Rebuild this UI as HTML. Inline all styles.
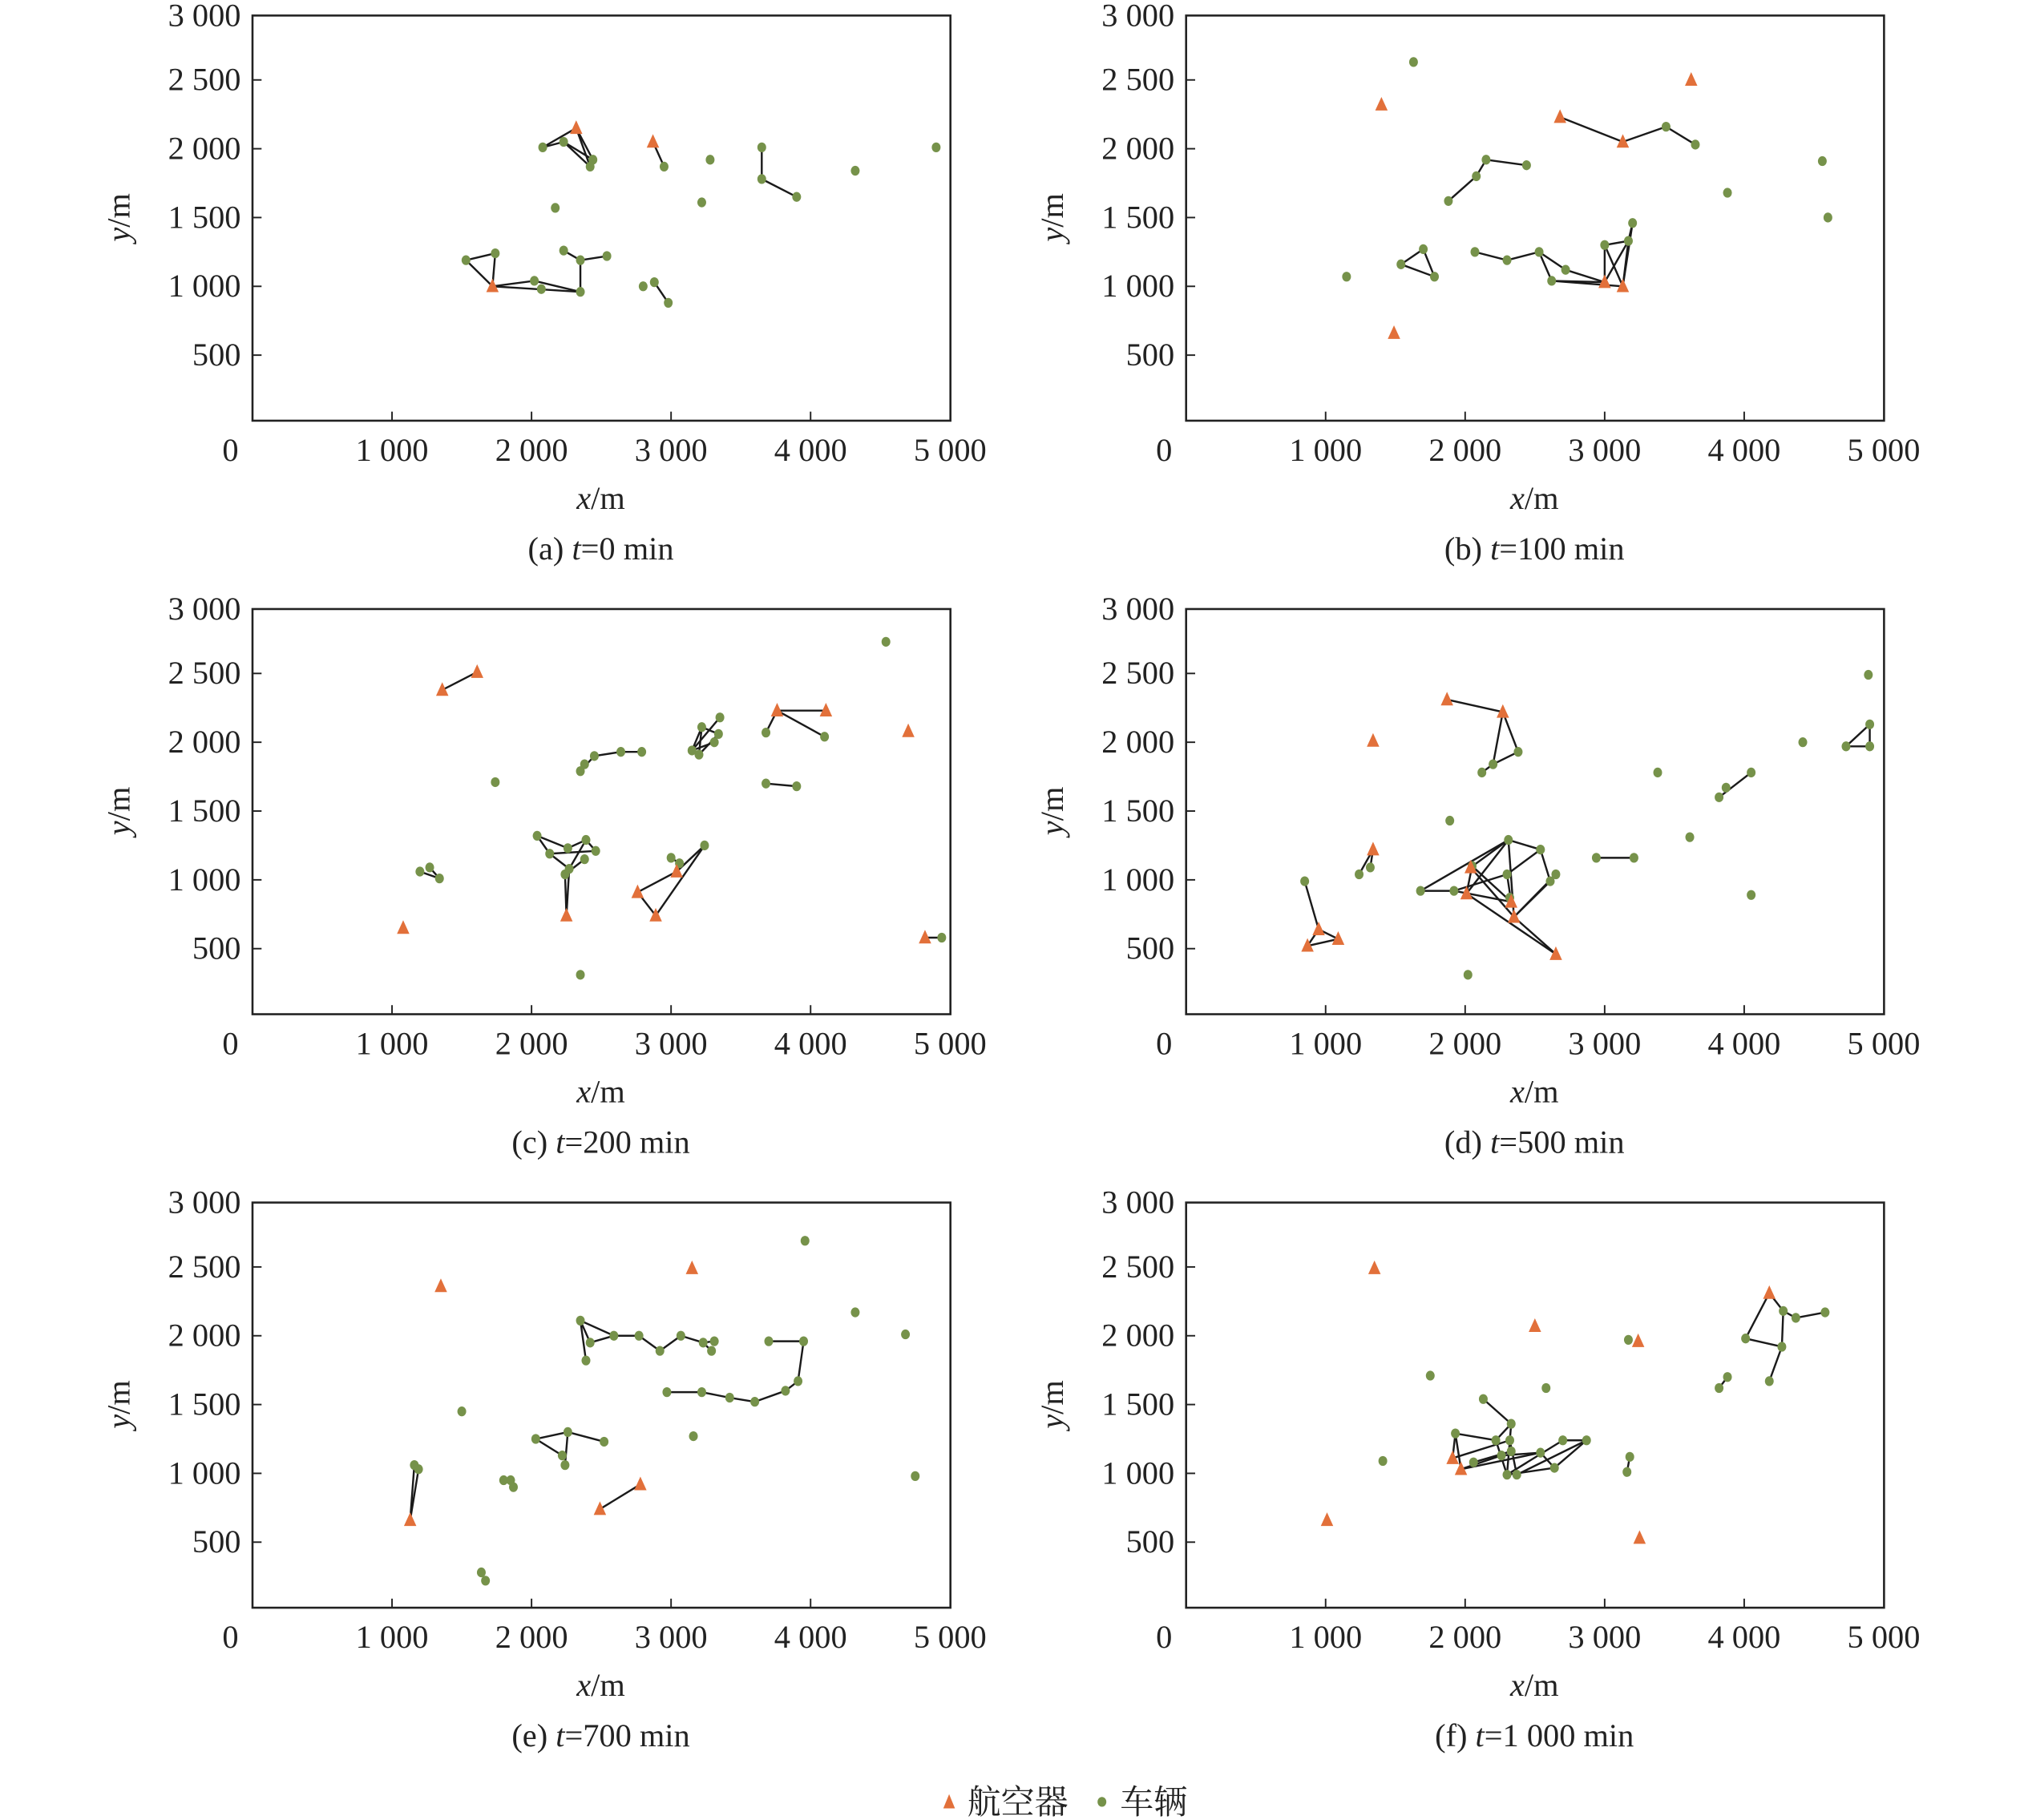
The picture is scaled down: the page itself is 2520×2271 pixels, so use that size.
<!DOCTYPE html>
<html><head><meta charset="utf-8"><style>
html,body{margin:0;padding:0;background:#fff;}
svg{display:block;font-family:"Liberation Serif","Noto Serif CJK SC",serif;}
</style></head><body>
<svg id="fig" xmlns="http://www.w3.org/2000/svg" width="2520" height="2271" viewBox="0 0 1560 1406" preserveAspectRatio="none"></svg>
<script>
const xTicks=[0,1000,2000,3000,4000,5000];
const xTickLabels=["0","1 000","2 000","3 000","4 000","5 000"];
const yTicks=[500,1000,1500,2000,2500,3000];
const yTickLabels=["500","1 000","1 500","2 000","2 500","3 000"];
const captions=[["(a) ","t","=0 min"],["(b) ","t","=100 min"],["(c) ","t","=200 min"],["(d) ","t","=500 min"],["(e) ","t","=700 min"],["(f) ","t","=1 000 min"]];

const aircraftA=[[2320,2150],[2870,2050],[1720,1000]];
const vehicleA=[[2080,2010],[2230,2050],[2440,1920],[2420,1870],[2950,1870],[3280,1920],[3650,2010],[3650,1780],[3900,1650],[4320,1840],[4900,2010],[3220,1610],[2170,1570],[1530,1190],[1740,1240],[2230,1260],[2540,1220],[2350,1190],[2020,1040],[2070,980],[2350,960],[2800,1000],[2880,1030],[2980,880]];
const edgesA=[[2320,2150,2080,2010],[2320,2150,2440,1920],[2320,2150,2420,1870],[2080,2010,2230,2050],[2230,2050,2420,1870],[2230,2050,2440,1920],[2870,2050,2950,1870],[3650,2010,3650,1780],[3650,1780,3900,1650],[1720,1000,1530,1190],[1720,1000,1740,1240],[1530,1190,1740,1240],[1720,1000,2350,960],[1720,1000,2020,1040],[2020,1040,2350,960],[2230,1260,2350,1190],[2350,1190,2540,1220],[2350,1190,2350,960],[2880,1030,2980,880]];

const aircraftB=[[3620,2500],[1400,2320],[2680,2230],[3130,2050],[1490,660],[3000,1030],[3130,1000]];
const vehicleB=[[1630,2630],[3440,2160],[3650,2030],[4560,1910],[4600,1500],[3880,1680],[2150,1920],[2440,1880],[2080,1800],[1880,1620],[1150,1070],[1540,1160],[1700,1270],[1780,1070],[2070,1250],[2300,1190],[2530,1250],[2620,1040],[2720,1120],[3000,1300],[3170,1330],[3200,1460]];
const edgesB=[[2680,2230,3130,2050],[3130,2050,3440,2160],[3440,2160,3650,2030],[1880,1620,2080,1800],[2080,1800,2150,1920],[2150,1920,2440,1880],[1540,1160,1700,1270],[1700,1270,1780,1070],[1540,1160,1780,1070],[2070,1250,2300,1190],[2300,1190,2530,1250],[2530,1250,2620,1040],[2530,1250,2720,1120],[2620,1040,3000,1030],[2720,1120,3000,1030],[2620,1040,3130,1000],[3000,1300,3000,1030],[3000,1300,3130,1000],[3000,1300,3170,1330],[3170,1330,3130,1000],[3200,1460,3130,1000],[3000,1030,3170,1330],[3170,1330,3200,1460]];

const aircraftC=[[1360,2380],[1610,2510],[1080,650],[2250,740],[2760,910],[2890,740],[3040,1060],[3760,2230],[4110,2230],[4700,2080],[4820,580]];
const vehicleC=[[4540,2730],[1740,1710],[1200,1060],[1270,1090],[1340,1010],[2040,1320],[2130,1190],[2260,1230],[2390,1290],[2460,1210],[2240,1040],[2270,1080],[2380,1150],[2350,310],[2350,1790],[2380,1840],[2450,1900],[2640,1930],[2790,1930],[3150,1940],[3200,1910],[3220,2110],[3310,2000],[3340,2060],[3350,2180],[3000,1160],[3060,1120],[3240,1250],[3680,2070],[4100,2040],[3680,1700],[3900,1680],[4940,580]];
const edgesC=[[1360,2380,1610,2510],[1200,1060,1340,1010],[1270,1090,1340,1010],[2040,1320,2130,1190],[2040,1320,2260,1230],[2250,740,2240,1040],[2250,740,2270,1080],[2240,1040,2380,1150],[2130,1190,2460,1210],[2260,1230,2390,1290],[2390,1290,2270,1080],[2390,1290,2460,1210],[2130,1190,2270,1080],[2350,1790,2450,1900],[2450,1900,2640,1930],[2640,1930,2790,1930],[3150,1940,3350,2180],[3200,1910,3220,2110],[3220,2110,3340,2060],[3150,1940,3310,2000],[3200,1910,3340,2060],[3150,1940,3220,2110],[3760,2230,4110,2230],[3760,2230,3680,2070],[3760,2230,4100,2040],[3680,1700,3900,1680],[2760,910,2890,740],[2760,910,3040,1060],[2890,740,3240,1250],[3040,1060,3240,1250],[3000,1160,3060,1120],[4820,580,4940,580]];

const aircraftD=[[1870,2310],[2270,2220],[1340,2010],[1340,1220],[950,640],[870,520],[1090,570],[2040,1090],[2010,900],[2330,840],[2350,730],[2650,460]];
const vehicleD=[[4890,2490],[4900,2130],[4900,1970],[4730,1970],[4420,2000],[3380,1780],[4050,1780],[3870,1670],[3820,1600],[3610,1310],[4050,890],[2940,1160],[3210,1160],[2120,1780],[2200,1840],[2380,1930],[1890,1430],[1240,1040],[1320,1090],[850,990],[2020,310],[1680,920],[1920,920],[2050,1100],[2310,1290],[2300,1040],[2540,1220],[2610,990],[2650,1040],[2320,870]];
const edgesD=[[1870,2310,2270,2220],[2270,2220,2200,1840],[2270,2220,2380,1930],[2120,1780,2200,1840],[2200,1840,2380,1930],[1240,1040,1340,1220],[1320,1090,1340,1220],[850,990,950,640],[950,640,870,520],[950,640,1090,570],[870,520,1090,570],[2940,1160,3210,1160],[3820,1600,4050,1780],[4730,1970,4900,2130],[4900,2130,4900,1970],[4730,1970,4900,1970],[1680,920,1920,920],[1920,920,2330,840],[2010,900,2310,1290],[2040,1090,2310,1290],[2310,1290,2540,1220],[2310,1290,2350,730],[2540,1220,2610,990],[2350,730,2650,460],[2350,730,2610,990],[2040,1090,2350,730],[1920,920,2300,1040],[2300,1040,2330,840],[2010,900,2650,460],[2650,1040,2350,730],[1680,920,2310,1290],[2050,1100,2330,840],[2300,1040,2540,1220],[2010,900,2050,1100]];

const aircraftE=[[1350,2360],[3150,2490],[1130,660],[2490,740],[2780,920]];
const vehicleE=[[3960,2690],[4320,2170],[4680,2010],[4750,980],[1500,1450],[1640,280],[1670,220],[1800,950],[1850,950],[1870,900],[1160,1060],[1190,1030],[2030,1250],[2220,1130],[2260,1300],[2240,1060],[2520,1230],[2350,2110],[2390,1820],[2420,1950],[2590,2000],[2770,2000],[2920,1890],[3070,2000],[3230,1950],[3290,1890],[3310,1960],[3700,1960],[3950,1960],[2970,1590],[3220,1590],[3420,1550],[3600,1520],[3820,1600],[3910,1670],[3160,1270]];
const edgesE=[[1130,660,1160,1060],[1130,660,1190,1030],[2490,740,2780,920],[2030,1250,2260,1300],[2260,1300,2520,1230],[2260,1300,2240,1060],[2030,1250,2220,1130],[2350,2110,2390,1820],[2350,2110,2590,2000],[2350,2110,2420,1950],[2420,1950,2590,2000],[2590,2000,2770,2000],[2770,2000,2920,1890],[2920,1890,3070,2000],[3070,2000,3230,1950],[3230,1950,3310,1960],[3230,1950,3290,1890],[3700,1960,3950,1960],[3950,1960,3910,1670],[3910,1670,3820,1600],[3820,1600,3600,1520],[3600,1520,3420,1550],[3420,1550,3220,1590],[3220,1590,2970,1590]];

const aircraftF=[[1350,2490],[2500,2070],[3240,1960],[4180,2310],[1010,660],[3250,530],[1910,1110],[1970,1030]];
const vehicleF=[[3170,1970],[1750,1710],[2580,1620],[1410,1090],[2130,1540],[2330,1360],[1930,1290],[2220,1240],[2320,1240],[2060,1080],[2260,1130],[2330,1160],[2300,990],[2370,990],[2540,1150],[2640,1040],[2700,1240],[2870,1240],[3160,1010],[3180,1120],[4010,1980],[4280,2180],[4370,2130],[4580,2170],[4270,1920],[4180,1670],[3880,1700],[3820,1620]];
const edgesF=[[4180,2310,4010,1980],[4180,2310,4280,2180],[4280,2180,4270,1920],[4370,2130,4580,2170],[4010,1980,4270,1920],[4270,1920,4180,1670],[4280,2180,4370,2130],[3820,1620,3880,1700],[3160,1010,3180,1120],[1930,1290,1970,1030],[1930,1290,2220,1240],[1910,1110,2320,1240],[1970,1030,2540,1150],[2220,1240,2300,990],[2320,1240,2370,990],[2330,1360,2300,990],[2130,1540,2330,1360],[2330,1360,2220,1240],[2060,1080,2330,1160],[2300,990,2700,1240],[2370,990,2870,1240],[2540,1150,2640,1040],[2640,1040,2870,1240],[2700,1240,2870,1240],[1970,1030,2260,1130],[2260,1130,2540,1150],[2300,990,2640,1040],[1910,1110,1930,1290]];

const panels=[[aircraftA,vehicleA,edgesA],[aircraftB,vehicleB,edgesB],[aircraftC,vehicleC,edgesC],[aircraftD,vehicleD,edgesD],[aircraftE,vehicleE,edgesE],[aircraftF,vehicleF,edgesF]];

const NS="http://www.w3.org/2000/svg";
const svg=document.getElementById('fig');
const ORANGE="#e2703a", GREEN="#76924a";
function mk(tag,attrs,parent){const e=document.createElementNS(NS,tag);for(const k in attrs)e.setAttribute(k,attrs[k]);(parent||svg).appendChild(e);return e;}
const colX=[195,916], rowY=[0,458.5,917];
panels.forEach((p,i)=>{
  const ox=colX[i%2], oy=rowY[Math.floor(i/2)];
  const X=v=>ox+v*0.10775;
  const Y=v=>oy+327.5-v*0.1063;
  const g=mk('g',{});
  
  
  const box=mk('rect',{x:ox,y:oy+12,width:539,height:313,fill:'none',stroke:'#222','stroke-width':1.6},g);
  
  
  xTicks.forEach((t,j)=>{
    if(j>0&&j<5){const l=mk('line',{x1:X(t),x2:X(t),y1:oy+325,y2:oy+318,stroke:'#222','stroke-width':1.2},g);
      }
    const tx=mk('text',{x:j===0?ox-17:X(t),y:oy+356,'font-size':25,'text-anchor':'middle',fill:'#222'},g);
    tx.textContent=xTickLabels[j];
    
  });
  yTicks.forEach((t,j)=>{
    const yy=j===5?oy+12:Y(t);
    if(j<5){const l=mk('line',{x1:ox,x2:ox+7,y1:yy,y2:yy,stroke:'#222','stroke-width':1.2},g);
      }
    const tx=mk('text',{x:ox-9,y:yy+8,'font-size':25,'text-anchor':'end',fill:'#222'},g);
    tx.textContent=yTickLabels[j];
    
  });
  const yl=mk('text',{x:0,y:0,'font-size':25,'text-anchor':'middle',fill:'#222',transform:`translate(${ox-95},${oy+168}) rotate(-90)`},g);
  yl.innerHTML='<tspan font-style="italic">y</tspan>/m';
  
  const xl=mk('text',{x:ox+269,y:oy+393,'font-size':25,'text-anchor':'middle',fill:'#222'},g);
  xl.innerHTML='<tspan font-style="italic">x</tspan>/m';
  
  const c=captions[i];
  const cp=mk('text',{x:ox+269,y:oy+432,'font-size':25,'text-anchor':'middle',fill:'#222'},g);
  cp.innerHTML=c[0]+'<tspan font-style="italic">'+c[1]+'</tspan>'+c[2];
  
  p[2].forEach(e=>{
    const l=mk('line',{x1:X(e[0]),y1:Y(e[1]),x2:X(e[2]),y2:Y(e[3]),stroke:'#1a1a1a','stroke-width':1.5},g);
    
  });
  p[1].forEach(v=>{
    const ci=mk('ellipse',{cx:X(v[0]),cy:Y(v[1]),rx:3.4,ry:3.8,fill:GREEN},g);
    
  });
  p[0].forEach(a=>{
    const x=X(a[0]),y=Y(a[1]);
    const tr=mk('polygon',{points:`${x},${y-6} ${x-4.8},${y+4.5} ${x+4.8},${y+4.5}`,fill:ORANGE},g);
    
  });
});
const lg=mk('g',{});

const lt=mk('polygon',{points:'733,1386 728.5,1397 737.5,1397',fill:ORANGE},lg);

const la=mk('text',{x:747,y:1401,'font-size':26,fill:'#222'},lg);
la.textContent='航空器';

const lc=mk('ellipse',{cx:851,cy:1392,rx:3.4,ry:3.8,fill:GREEN},lg);

const lv=mk('text',{x:865,y:1401,'font-size':26,fill:'#222'},lg);
lv.textContent='车辆';

</script>
</body></html>
